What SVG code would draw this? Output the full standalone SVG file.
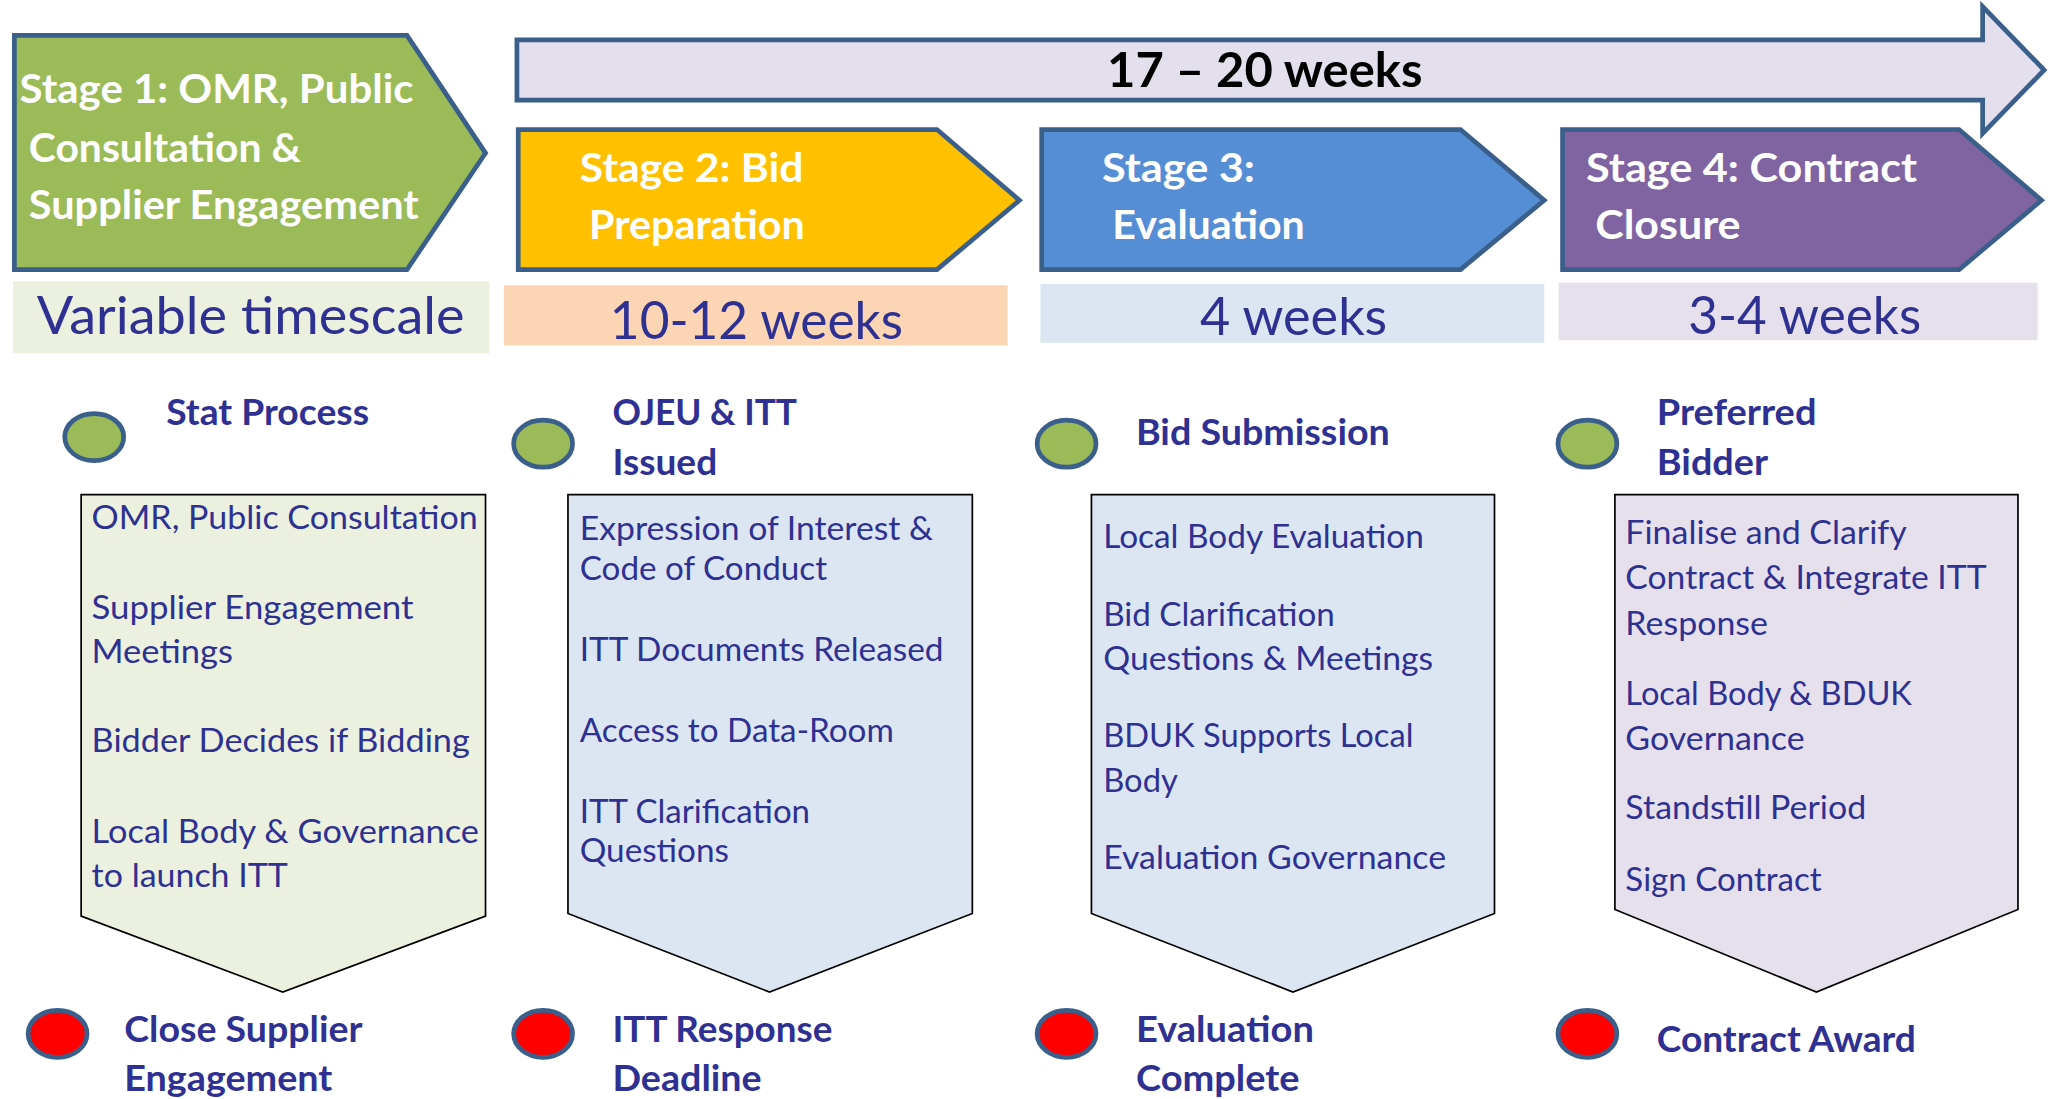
<svg xmlns="http://www.w3.org/2000/svg" width="2052" height="1099" viewBox="0 0 2052 1099">
<style>
.stage{stroke:#3A5F8B;stroke-width:3.6;stroke-linejoin:miter}
.dot{stroke:#3A5F8B;stroke-width:3.6}
.box{stroke:#000;stroke-width:1.3}
text{font-family:Lato,"Liberation Sans",sans-serif}
.title{font-weight:bold;fill:#fff;font-size:31px}
.big{font-weight:bold;fill:#000;font-size:37px}
.ts{fill:#2E3192;font-size:40px}
.hd{font-weight:bold;fill:#2E3192;font-size:28px}
.bx{fill:#2E3192;font-size:25.5px}
</style>
<rect width="2052" height="1099" fill="#fff"/>
<g transform="scale(1.30867)">
<g id="overall-arrow">
<polygon class="stage" fill="#E4DFEC" points="395,30.5 1515,30.5 1515,5 1562,53.5 1515,102 1515,76.5 395,76.5"/>
<text class="big" x="846" y="66.5" textLength="241" lengthAdjust="spacingAndGlyphs">17 – 20 weeks</text>
</g>
<g id="stage1">
<polygon class="stage" fill="#9BBB59" points="11,27 311,27 371,117 311,206 11,206"/>
<text class="title" x="15" y="78.5" textLength="301" lengthAdjust="spacingAndGlyphs">Stage 1: OMR, Public</text>
<text class="title" x="22" y="123.5" textLength="208" lengthAdjust="spacingAndGlyphs">Consultation &amp;</text>
<text class="title" x="22" y="167.5" textLength="298" lengthAdjust="spacingAndGlyphs">Supplier Engagement</text>
</g>
<g id="stage2">
<polygon class="stage" fill="#FFC000" points="396,99 716,99 779,153 716,206 396,206"/>
<text class="title" x="443" y="139" textLength="171" lengthAdjust="spacingAndGlyphs">Stage 2: Bid</text>
<text class="title" x="450" y="182.5" textLength="165" lengthAdjust="spacingAndGlyphs">Preparation</text>
</g>
<g id="stage3">
<polygon class="stage" fill="#558ED5" points="796,99 1116,99 1180,153 1116,206 796,206"/>
<text class="title" x="842" y="139" textLength="117" lengthAdjust="spacingAndGlyphs">Stage 3:</text>
<text class="title" x="850" y="182.5" textLength="147" lengthAdjust="spacingAndGlyphs">Evaluation</text>
</g>
<g id="stage4">
<polygon class="stage" fill="#8064A2" points="1194,99 1497,99 1560,153 1497,206 1194,206"/>
<text class="title" x="1212" y="139" textLength="253" lengthAdjust="spacingAndGlyphs">Stage 4: Contract</text>
<text class="title" x="1219" y="182.5" textLength="111" lengthAdjust="spacingAndGlyphs">Closure</text>
</g>
<g id="timescale1">
<rect x="10" y="215" width="364" height="55" fill="#EBF1DE"/>
<text class="ts" x="28" y="255" textLength="327" lengthAdjust="spacingAndGlyphs">Variable timescale</text>
</g>
<g id="timescale2">
<rect x="385" y="218" width="385" height="46" fill="#FCD5B5"/>
<text class="ts" x="466" y="259" textLength="224" lengthAdjust="spacingAndGlyphs">10-12 weeks</text>
</g>
<g id="timescale3">
<rect x="795" y="217" width="385" height="45" fill="#DCE6F2"/>
<text class="ts" x="917" y="256" textLength="143" lengthAdjust="spacingAndGlyphs">4 weeks</text>
</g>
<g id="timescale4">
<rect x="1191" y="216" width="366" height="44" fill="#E6E0EC"/>
<text class="ts" x="1290" y="255" textLength="178" lengthAdjust="spacingAndGlyphs">3-4 weeks</text>
</g>
<g id="milestone-start-1">
<ellipse class="dot" cx="72" cy="334" rx="22.5" ry="18" fill="#9BBB59"/>
<text class="hd" x="127" y="325" textLength="155" lengthAdjust="spacingAndGlyphs">Stat Process</text>
</g>
<g id="milestone-start-2">
<ellipse class="dot" cx="415" cy="339" rx="22.5" ry="18" fill="#9BBB59"/>
<text class="hd" x="468" y="325" textLength="141" lengthAdjust="spacingAndGlyphs">OJEU &amp; ITT</text>
<text class="hd" x="468" y="363" textLength="80" lengthAdjust="spacingAndGlyphs">Issued</text>
</g>
<g id="milestone-start-3">
<ellipse class="dot" cx="815" cy="339" rx="22.5" ry="18" fill="#9BBB59"/>
<text class="hd" x="868" y="340" textLength="194" lengthAdjust="spacingAndGlyphs">Bid Submission</text>
</g>
<g id="milestone-start-4">
<ellipse class="dot" cx="1213" cy="339" rx="22.5" ry="18" fill="#9BBB59"/>
<text class="hd" x="1266" y="325" textLength="122" lengthAdjust="spacingAndGlyphs">Preferred</text>
<text class="hd" x="1266" y="363" textLength="85" lengthAdjust="spacingAndGlyphs">Bidder</text>
</g>
<g id="activities-1">
<polygon class="box" fill="#EBF1DE" points="62,378 371,378 371,700 216,758 62,700"/>
<text class="bx" x="70" y="404" textLength="295" lengthAdjust="spacingAndGlyphs">OMR, Public Consultation</text>
<text class="bx" x="70" y="473" textLength="246" lengthAdjust="spacingAndGlyphs">Supplier Engagement</text>
<text class="bx" x="70" y="507" textLength="108" lengthAdjust="spacingAndGlyphs">Meetings</text>
<text class="bx" x="70" y="575" textLength="289" lengthAdjust="spacingAndGlyphs">Bidder Decides if Bidding</text>
<text class="bx" x="70" y="644" textLength="296" lengthAdjust="spacingAndGlyphs">Local Body &amp; Governance</text>
<text class="bx" x="70" y="678" textLength="150" lengthAdjust="spacingAndGlyphs">to launch ITT</text>
</g>
<g id="activities-2">
<polygon class="box" fill="#DCE6F2" points="434,378 743,378 743,698 588,758 434,698"/>
<text class="bx" x="443" y="413" textLength="270" lengthAdjust="spacingAndGlyphs">Expression of Interest &amp;</text>
<text class="bx" x="443" y="443" textLength="189" lengthAdjust="spacingAndGlyphs">Code of Conduct</text>
<text class="bx" x="443" y="505" textLength="278" lengthAdjust="spacingAndGlyphs">ITT Documents Released</text>
<text class="bx" x="443" y="567" textLength="240" lengthAdjust="spacingAndGlyphs">Access to Data-Room</text>
<text class="bx" x="443" y="629" textLength="176" lengthAdjust="spacingAndGlyphs">ITT Clarification</text>
<text class="bx" x="443" y="659" textLength="114" lengthAdjust="spacingAndGlyphs">Questions</text>
</g>
<g id="activities-3">
<polygon class="box" fill="#DCE6F2" points="834,378 1142,378 1142,698 988,758 834,698"/>
<text class="bx" x="843" y="419" textLength="245" lengthAdjust="spacingAndGlyphs">Local Body Evaluation</text>
<text class="bx" x="843" y="478" textLength="177" lengthAdjust="spacingAndGlyphs">Bid Clarification</text>
<text class="bx" x="843" y="512" textLength="252" lengthAdjust="spacingAndGlyphs">Questions &amp; Meetings</text>
<text class="bx" x="843" y="571" textLength="237" lengthAdjust="spacingAndGlyphs">BDUK Supports Local</text>
<text class="bx" x="843" y="605" textLength="57" lengthAdjust="spacingAndGlyphs">Body</text>
<text class="bx" x="843" y="664" textLength="262" lengthAdjust="spacingAndGlyphs">Evaluation Governance</text>
</g>
<g id="activities-4">
<polygon class="box" fill="#E6E0EC" points="1234,378 1542,378 1542,695 1388,758 1234,695"/>
<text class="bx" x="1242" y="416" textLength="215" lengthAdjust="spacingAndGlyphs">Finalise and Clarify</text>
<text class="bx" x="1242" y="450" textLength="276" lengthAdjust="spacingAndGlyphs">Contract &amp; Integrate ITT</text>
<text class="bx" x="1242" y="485" textLength="109" lengthAdjust="spacingAndGlyphs">Response</text>
<text class="bx" x="1242" y="539" textLength="219" lengthAdjust="spacingAndGlyphs">Local Body &amp; BDUK</text>
<text class="bx" x="1242" y="573" textLength="137" lengthAdjust="spacingAndGlyphs">Governance</text>
<text class="bx" x="1242" y="626" textLength="184" lengthAdjust="spacingAndGlyphs">Standstill Period</text>
<text class="bx" x="1242" y="681" textLength="150" lengthAdjust="spacingAndGlyphs">Sign Contract</text>
</g>
<g id="milestone-end-1">
<ellipse class="dot" cx="44" cy="790" rx="22.5" ry="18" fill="#FF0000"/>
<text class="hd" x="95" y="796" textLength="182" lengthAdjust="spacingAndGlyphs">Close Supplier</text>
<text class="hd" x="95" y="834" textLength="159" lengthAdjust="spacingAndGlyphs">Engagement</text>
</g>
<g id="milestone-end-2">
<ellipse class="dot" cx="415" cy="790" rx="22.5" ry="18" fill="#FF0000"/>
<text class="hd" x="468" y="796" textLength="168" lengthAdjust="spacingAndGlyphs">ITT Response</text>
<text class="hd" x="468" y="834" textLength="114" lengthAdjust="spacingAndGlyphs">Deadline</text>
</g>
<g id="milestone-end-3">
<ellipse class="dot" cx="815" cy="790" rx="22.5" ry="18" fill="#FF0000"/>
<text class="hd" x="868" y="796" textLength="136" lengthAdjust="spacingAndGlyphs">Evaluation</text>
<text class="hd" x="868" y="834" textLength="125" lengthAdjust="spacingAndGlyphs">Complete</text>
</g>
<g id="milestone-end-4">
<ellipse class="dot" cx="1213" cy="790" rx="22.5" ry="18" fill="#FF0000"/>
<text class="hd" x="1266" y="804" textLength="198" lengthAdjust="spacingAndGlyphs">Contract Award</text>
</g>
<g id="connectors"></g>
</g>
</svg>
